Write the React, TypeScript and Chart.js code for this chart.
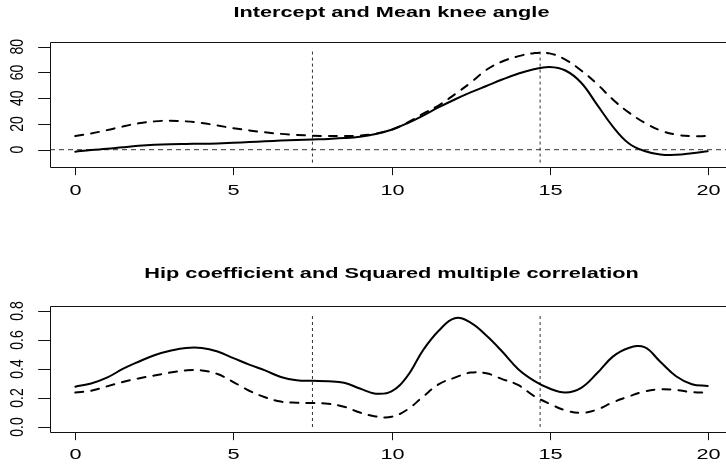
import React, { useEffect, useRef } from "react";
import { Chart, registerables } from "chart.js";

Chart.register(...registerables);

// ---------- data ----------
const xs = [0, 0.5, 1, 1.5, 2, 2.5, 3, 3.5, 4, 4.5, 5, 5.5, 6, 6.5, 7, 7.5, 8, 8.5, 9, 9.5, 10,
  10.5, 11, 11.5, 12, 12.5, 13, 13.5, 14, 14.5, 15, 15.5, 16, 16.5, 17, 17.5, 18, 18.5, 19, 19.5, 20];

const interceptSolid = [-1.5, -0.3, 0.7, 1.9, 3.0, 3.8, 4.3, 4.5, 4.6, 4.9, 5.4, 5.9, 6.5, 7.1, 7.6, 8.0, 8.4, 9.0, 10.1, 12.2, 15.5,
  20.5, 26.5, 33.0, 39.0, 44.5, 49.5, 54.5, 59.0, 62.5, 64.3, 61.5, 52.0, 35.0, 18.0, 5.0, -1.0, -3.7, -4.0, -2.8, -1.2];

const meanKneeDashed = [10.6, 12.6, 15.2, 18.0, 20.5, 22.0, 22.5, 22.0, 20.8, 18.8, 16.7, 15.0, 13.5, 12.3, 11.5, 10.9, 10.6, 10.6, 11.0, 12.5, 15.5,
  21.0, 28.0, 34.5, 43.0, 52.0, 62.0, 68.5, 72.5, 75.0, 74.8, 70.0, 61.5, 51.0, 39.0, 29.0, 21.0, 15.0, 11.7, 10.5, 10.6];

const hipSolid = [0.278, 0.30, 0.34, 0.40, 0.45, 0.495, 0.525, 0.545, 0.545, 0.52, 0.475, 0.43, 0.39, 0.345, 0.322, 0.318, 0.315, 0.305, 0.265, 0.23, 0.245,
  0.35, 0.53, 0.665, 0.75, 0.72, 0.63, 0.52, 0.40, 0.32, 0.265, 0.238, 0.27, 0.37, 0.485, 0.545, 0.55, 0.45, 0.35, 0.295, 0.283];

const rsqDashed = [0.237, 0.25, 0.28, 0.31, 0.335, 0.355, 0.375, 0.39, 0.39, 0.365, 0.31, 0.25, 0.205, 0.175, 0.167, 0.165, 0.16, 0.14, 0.10, 0.073, 0.07,
  0.12, 0.21, 0.295, 0.34, 0.375, 0.37, 0.33, 0.29, 0.215, 0.16, 0.115, 0.098, 0.12, 0.17, 0.21, 0.245, 0.26, 0.255, 0.24, 0.237];

const xTicks = [0, 5, 10, 15, 20];
const xTickLabels = ["0", "5", "10", "15", "20"];
const topYTicks = [0, 20, 40, 60, 80];
const topYTickLabels = ["0", "20", "40", "60", "80"];
const botYTicks = [0, 0.2, 0.4, 0.6, 0.8];
const botYTickLabels = ["0.0", "0.2", "0.4", "0.6", "0.8"];

const vLines = [7.5, 14.7];
const topVRange = [-10, 78];
const botVRange = [0, 0.78];
const topTitle = "Intercept and Mean knee angle";
const botTitle = "Hip coefficient and Squared multiple correlation";

// ---------- styling ----------
const FONT = "'Liberation Sans', Arial, Helvetica, sans-serif";
const SX = 1.55; // horizontal text stretch of reference
const SXR = 1.33;

const rPlugin = {
  id: "rstyle",
  afterDraw(chart: any, _args: any, opts: any) {
    const { ctx, chartArea: a, scales } = chart;
    const x = scales.x;
    const y = scales.y;
    ctx.save();
    ctx.strokeStyle = "#111";
    ctx.fillStyle = "#000";
    ctx.lineWidth = 1;
    ctx.setLineDash([]);
    const L = Math.round(a.left) + 0.5;
    const T = Math.round(a.top) + 0.5;
    const R = Math.round(a.right) + 0.5;
    const B = Math.round(a.bottom) + 0.5;
    ctx.beginPath();
    ctx.moveTo(L, T); ctx.lineTo(R, T); ctx.lineTo(R, B); ctx.lineTo(L, B); ctx.closePath();
    ctx.stroke();

    // x ticks
    ctx.font = `14px ${FONT}`;
    xTicks.forEach((v, i) => {
      const px = Math.round(x.getPixelForValue(v)) + 0.5;
      ctx.beginPath();
      ctx.moveTo(px, B);
      ctx.lineTo(px, B + 7.7);
      ctx.stroke();
      ctx.save();
      ctx.translate(px, a.bottom + 27.7);
      ctx.scale(SX, 1);
      ctx.textAlign = "center";
      ctx.textBaseline = "alphabetic";
      ctx.fillText(xTickLabels[i], 0, 0);
      ctx.restore();
    });

    // y ticks
    const yt: number[] = opts.yTicks;
    const yl: string[] = opts.yLabels;
    yt.forEach((v, i) => {
      const py = Math.round(y.getPixelForValue(v)) + 0.5;
      ctx.beginPath();
      ctx.moveTo(L, py);
      ctx.lineTo(L - 12.3, py);
      ctx.stroke();
      ctx.save();
      ctx.translate(23.3, y.getPixelForValue(v));
      ctx.scale(SXR, 1);
      ctx.rotate(-Math.PI / 2);
      ctx.textAlign = "center";
      ctx.textBaseline = "alphabetic";
      ctx.fillText(yl[i], 0, 0);
      ctx.restore();
    });

    // title
    ctx.save();
    ctx.font = `bold 14px ${FONT}`;
    ctx.translate((a.left + a.right) / 2, opts.titleY);
    ctx.scale(SX, 1);
    ctx.textAlign = "center";
    ctx.textBaseline = "alphabetic";
    ctx.fillText(opts.title, 0, 0);
    ctx.restore();

    ctx.restore();
  },
};

function makeConfig(
  solid: number[],
  dashed: number[],
  vRange: number[],
  yMin: number,
  yMax: number,
  hLine: boolean,
  padding: any,
  pluginOpts: any
): any {
  const datasets: any[] = [
    {
      data: xs.map((v, i) => ({ x: v, y: solid[i] })),
      borderColor: "#000",
      borderWidth: 2,
      pointRadius: 0,
      tension: 0.4,
      borderCapStyle: "round",
      borderJoinStyle: "round",
      fill: false,
    },
    {
      data: xs.map((v, i) => ({ x: v, y: dashed[i] })),
      borderColor: "#000",
      borderWidth: 2,
      borderDash: [8, 8],
      borderCapStyle: "round",
      pointRadius: 0,
      tension: 0.4,
      fill: false,
    },
  ];
  vLines.forEach((v) => {
    datasets.push({
      data: [{ x: v, y: vRange[0] }, { x: v, y: vRange[1] }],
      borderColor: "#333",
      borderWidth: 1,
      borderDash: [3, 3],
      pointRadius: 0,
      tension: 0,
      fill: false,
    });
  });
  if (hLine) {
    datasets.push({
      data: [{ x: -0.8, y: 0 }, { x: 20.8, y: 0 }],
      borderColor: "#333",
      borderWidth: 1,
      borderDash: [5, 4],
      pointRadius: 0,
      tension: 0,
      fill: false,
    });
  }
  return {
    type: "line",
    data: { datasets },
    options: {
      animation: false,
      responsive: false,
      devicePixelRatio: 1,
      layout: { padding },
      scales: {
        x: { type: "linear", min: -0.8, max: 20.8, display: false },
        y: { type: "linear", min: yMin, max: yMax, display: false },
      },
      plugins: {
        legend: { display: false },
        tooltip: { enabled: false },
        title: { display: false },
        rstyle: pluginOpts,
      },
    },
    plugins: [rPlugin],
  };
}

export default function App() {
  const topRef = useRef<HTMLCanvasElement>(null);
  const botRef = useRef<HTMLCanvasElement>(null);

  useEffect(() => {
    const c1 = new Chart(
      topRef.current as HTMLCanvasElement,
      makeConfig(
        interceptSolid,
        meanKneeDashed,
        topVRange,
        -13.67,
        83.88,
        true,
        { left: 50, right: 50, top: 41.7, bottom: 64.7 },
        { title: topTitle, titleY: 16.7, yTicks: topYTicks, yLabels: topYTickLabels }
      )
    );
    const c2 = new Chart(
      botRef.current as HTMLCanvasElement,
      makeConfig(
        hipSolid,
        rsqDashed,
        botVRange,
        -0.0324,
        0.834,
        false,
        { left: 50, right: 50, top: 74, bottom: 32.3 },
        { title: botTitle, titleY: 46, yTicks: botYTicks, yLabels: botYTickLabels }
      )
    );
    return () => {
      c1.destroy();
      c2.destroy();
    };
  }, []);

  return (
    <div
      style={{
        position: "fixed",
        left: 0,
        top: 0,
        width: 726,
        height: 464,
        overflow: "hidden",
        background: "#fff",
      }}
    >
      <canvas
        ref={topRef}
        width={783}
        height={232}
        style={{ position: "absolute", left: 0, top: 0, width: 783, height: 232 }}
      />
      <canvas
        ref={botRef}
        width={783}
        height={232}
        style={{ position: "absolute", left: 0, top: 232, width: 783, height: 232 }}
      />
    </div>
  );
}
